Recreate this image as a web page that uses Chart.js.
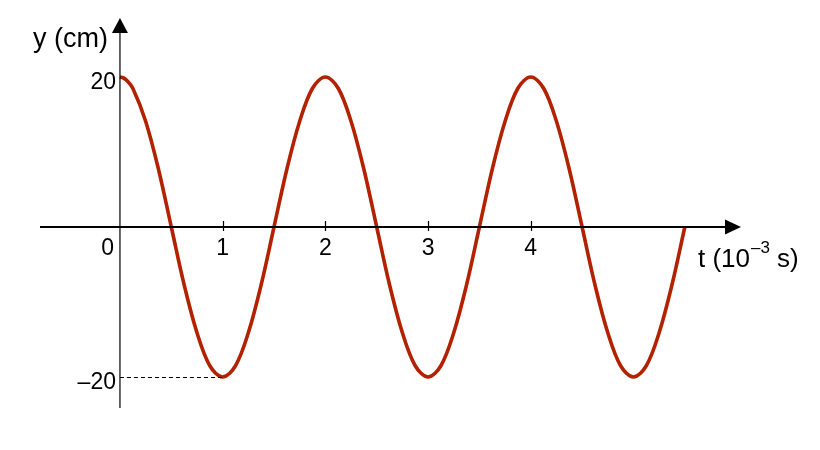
<!DOCTYPE html>
<html>
<head>
<meta charset="utf-8">
<script src="https://cdn.jsdelivr.net/npm/chart.js@4.4.0/dist/chart.umd.min.js"></script>
<style>
html,body{margin:0;padding:0;background:#fff;}
#c{display:block;}
</style>
</head>
<body>
<canvas id="c" width="820" height="450"></canvas>
<script>
// time in 10^-3 s
const tValues = [0,0.03,0.0625,0.125,0.25,0.375,0.5,0.625,0.75,0.875,1,1.125,1.25,1.375,1.5,1.625,1.75,1.875,2,2.125,2.25,2.375,2.5,2.625,2.75,2.875,3,3.125,3.25,3.375,3.5,3.625,3.75,3.875,4,4.125,4.25,4.375,4.5,4.625,4.75,4.875,5,5.125,5.25,5.375,5.5];
// displacement in cm
const yValues = [20,19.9,19.6,18.5,14.1,7.7,0,-7.7,-14.1,-18.5,-20,-18.5,-14.1,-7.7,0,7.7,14.1,18.5,20,18.5,14.1,7.7,0,-7.7,-14.1,-18.5,-20,-18.5,-14.1,-7.7,0,7.7,14.1,18.5,20,18.5,14.1,7.7,0,-7.7,-14.1,-18.5,-20,-18.5,-14.1,-7.7,0];
const xTickLabels = ["1","2","3","4"];
const xTickValues = [1,2,3,4];
const yTickLabels = ["20","\u201320"];
const yTickValues = [20,-20];
const troughT = 1;
const amplitude = -20;

const points = tValues.map((t,i)=>({x:t,y:yValues[i]}));
const FONT = '"Liberation Sans", Arial, sans-serif';

const axesPlugin = {
  id:'axesPlugin',
  afterDatasetsDraw(chart){
    const ctx = chart.ctx;
    const xs = chart.scales.x, ys = chart.scales.y;
    const x0 = xs.getPixelForValue(0);
    const y0 = ys.getPixelForValue(0);
    ctx.save();
    ctx.strokeStyle = '#000';
    ctx.fillStyle = '#000';
    // dashed guide
    ctx.lineWidth = 1;
    ctx.setLineDash([4,3]);
    ctx.beginPath();
    const yt = ys.getPixelForValue(amplitude);
    ctx.moveTo(x0, yt+0.5);
    ctx.lineTo(xs.getPixelForValue(troughT), yt+0.5);
    ctx.stroke();
    ctx.setLineDash([]);
    // y axis
    ctx.lineWidth = 1.2;
    ctx.beginPath();
    ctx.moveTo(x0, 408);
    ctx.lineTo(x0, 30);
    ctx.stroke();
    ctx.beginPath();
    ctx.moveTo(x0, 18);
    ctx.lineTo(x0-8, 33);
    ctx.lineTo(x0+8, 33);
    ctx.closePath();
    ctx.fill();
    // x axis
    ctx.lineWidth = 2.2;
    ctx.beginPath();
    ctx.moveTo(40, y0);
    ctx.lineTo(728, y0);
    ctx.stroke();
    ctx.beginPath();
    ctx.moveTo(741, y0);
    ctx.lineTo(725, y0-7.5);
    ctx.lineTo(725, y0+7.5);
    ctx.closePath();
    ctx.fill();
    // ticks
    ctx.lineWidth = 1.2;
    xTickValues.forEach(v=>{
      const px = Math.round(xs.getPixelForValue(v))+0.5;
      ctx.beginPath();
      ctx.moveTo(px, y0-6);
      ctx.lineTo(px, y0+4);
      ctx.stroke();
    });
    // tick labels
    ctx.font = '23px '+FONT;
    ctx.textBaseline = 'alphabetic';
    ctx.textAlign = 'center';
    xTickLabels.forEach((l,i)=>{
      ctx.fillText(l, xs.getPixelForValue(xTickValues[i]), y0+28);
    });
    ctx.textAlign = 'right';
    ctx.fillText('0', x0-6, y0+28);
    yTickLabels.forEach((l,i)=>{
      ctx.fillText(l, x0-4, ys.getPixelForValue(yTickValues[i])+12);
    });
    // axis titles
    ctx.font = '27px '+FONT;
    ctx.textAlign = 'left';
    ctx.fillText('y (cm)', 33, 47);
    ctx.font = '26px '+FONT;
    let tx = 698;
    const by = 267;
    ctx.fillText('t (10', tx, by);
    tx += ctx.measureText('t (10').width + 1;
    ctx.font = '17px '+FONT;
    ctx.fillText('\u20133', tx, by-14);
    tx += ctx.measureText('\u20133').width + 7;
    ctx.font = '26px '+FONT;
    ctx.fillText('s)', tx, by);
    ctx.restore();
  }
};

new Chart(document.getElementById('c'), {
  type:'scatter',
  data:{datasets:[{
    data:points,
    showLine:true,
    borderColor:'#b22200',
    borderWidth:3.6,
    pointRadius:0,
    tension:0.35,
    fill:false
  }]},
  options:{
    responsive:false,
    animation:false,
    layout:{padding:{left:37.8,right:63.3,top:17,bottom:35.5}},
    plugins:{legend:{display:false},tooltip:{enabled:false}},
    scales:{
      x:{type:'linear',min:-0.8,max:6.2,display:false},
      y:{type:'linear',min:-25,max:28,display:false}
    }
  },
  plugins:[axesPlugin]
});
</script>
</body>
</html>
